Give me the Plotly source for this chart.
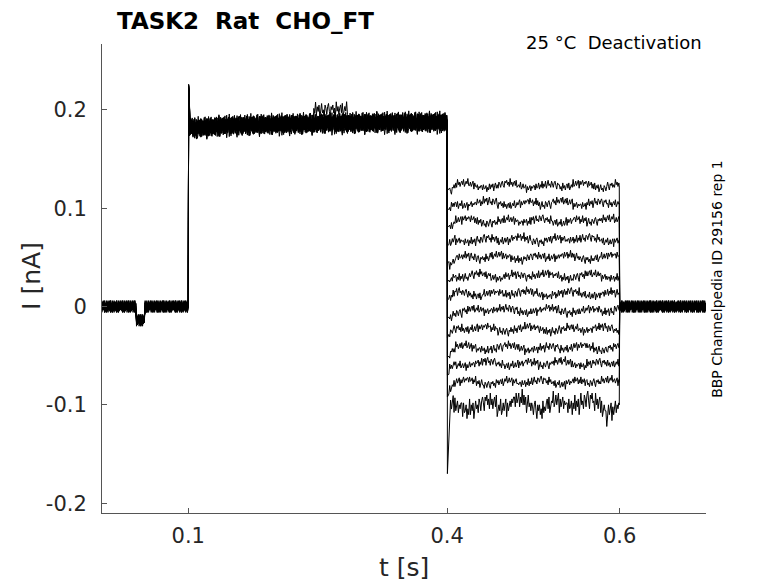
import numpy as np
import plotly.graph_objects as go

# deactivation protocol: 13 sweeps, step to +, then tail to various levels
tail_levels = [0.123, 0.105, 0.087, 0.068, 0.050, 0.031, 0.013,
               -0.004, -0.023, -0.042, -0.058, -0.077, -0.100]
tail_start = [0.118, 0.100, 0.082, 0.062, 0.044, 0.025, 0.006,
              -0.012, -0.032, -0.052, -0.070, -0.092, -0.170]
step_offset = [0.003, -0.002, 0.001, -0.004, 0.002, 0.000, -0.001,
               0.004, -0.003, 0.001, -0.002, 0.003, 0.000]

# step pulse shape (shared by all sweeps)
step_knot_t = [0.1015, 0.105, 0.15, 0.25, 0.35, 0.4]
step_knot_I = [0.184, 0.181, 0.184, 0.186, 0.187, 0.187]
peak_I = 0.226
dip_t = [0.0395, 0.0495]
dip_I = -0.014
bump_t = [0.245, 0.285]
bump_I = 0.014

# hand-read noise pattern (nA)
wiggle = [0.002, -0.003, 0.004, -0.001, 0.000, 0.003, -0.004, 0.001, -0.002, 0.005,
          -0.003, 0.002, -0.001, 0.003, -0.005, 0.001, 0.004, -0.002, 0.000, -0.004,
          0.003, 0.001, -0.003, 0.002, 0.004, -0.001, -0.005, 0.002, 0.000, 0.003,
          -0.002, 0.001, -0.004, 0.005, -0.001, 0.002, -0.003, 0.001, 0.003, -0.002,
          0.004, -0.004, 0.000, 0.002, -0.001, 0.005, -0.003, -0.001, 0.003, -0.002,
          0.001, 0.004, -0.005, 0.002, -0.002, 0.000, 0.003, -0.003, 0.001, -0.001, 0.002]
# slower wander of the tail sweeps, one value every 8 ms
drift = [0.000, 0.002, 0.003, 0.001, -0.002, -0.003, -0.001, 0.001, 0.003, 0.002,
         -0.001, -0.003, -0.002, 0.000, 0.002, 0.001, -0.002, -0.001, 0.002, 0.003,
         0.001, -0.002, -0.003, 0.000, 0.002, 0.001, -0.001]

dt = 0.001
nw = len(wiggle)
nd = len(drift)
last = len(tail_levels) - 1

fig = go.Figure()
for k, (lvl, start) in enumerate(zip(tail_levels, tail_start)):
    ts, ys = [], []
    s = 7 * k
    # holding
    for i, t in enumerate(np.arange(0, 0.1, dt)):
        base = dip_I if dip_t[0] <= t < dip_t[1] else 0.0
        ts.append(t)
        ys.append(base + 1.2 * wiggle[(i + s) % nw])
    ts += [0.1, 0.1004]
    ys += [0.0, peak_I - 0.0005 * k]
    # step
    for i, t in enumerate(np.arange(0.1015, 0.4, dt)):
        base = np.interp(t, step_knot_t, step_knot_I) + step_offset[k]
        if k == 5 and bump_t[0] <= t <= bump_t[1]:
            base += bump_I
        ts.append(t)
        ys.append(base + 1.6 * wiggle[(i + s + 11) % nw])
    ts += [0.4, 0.4003]
    ys += [0.187 + step_offset[k], start]
    # tail
    amp = 2.0 if k == last else 0.9
    for i, t in enumerate(np.arange(0.402, 0.6, dt)):
        base = np.interp(t, [0.4003, 0.403, 0.41], [start, lvl - 0.006, lvl])
        j = int((t - 0.402) / 0.008)
        base += amp * drift[(j + 3 * k) % nd]
        if k == last and abs(t - 0.5845) < 0.0012:
            base -= 0.012
        ts.append(t)
        ys.append(base + amp * wiggle[(i + s + 23) % nw])
    ts += [0.5995, 0.6]
    ys += [lvl, 0.0]
    # back to holding
    for i, t in enumerate(np.arange(0.6015, 0.7, dt)):
        ts.append(t)
        ys.append(1.2 * wiggle[(i + s + 37) % nw])
    fig.add_trace(go.Scatter(x=ts, y=ys, mode="lines",
                             line=dict(color="black", width=1),
                             showlegend=False, hoverinfo="skip"))

axis_style = dict(showline=True, linecolor="#555555", linewidth=1,
                  ticks="inside", ticklen=5, tickcolor="#555555",
                  showgrid=False, zeroline=False,
                  tickfont=dict(family="DejaVu Sans", size=21, color="#262626"))

fig.update_layout(
    width=778, height=583,
    margin=dict(l=94, r=80, t=36, b=78),
    plot_bgcolor="white", paper_bgcolor="white",
    xaxis=dict(range=[0, 0.7], tickvals=[0.1, 0.4, 0.6],
               ticktext=["0.1", "0.4", "0.6"], ticklabelstandoff=4, **axis_style),
    yaxis=dict(range=[-0.21, 0.267], tickvals=[-0.2, -0.1, 0, 0.1, 0.2],
               ticktext=["-0.2", "-0.1", "0", "0.1", "0.2"], ticklabelstandoff=10,
               **axis_style),
    font=dict(family="DejaVu Sans", color="black"),
)

fig.add_annotation(text="<b>TASK2  Rat  CHO_FT</b>", xref="paper", yref="paper",
                   x=0.022, y=1.05, xanchor="left", yanchor="middle",
                   showarrow=False, font=dict(size=23, color="black"))
fig.add_annotation(text="25 °C  Deactivation", xref="paper", yref="paper",
                   x=0.997, y=1.004, xanchor="right", yanchor="middle",
                   showarrow=False, font=dict(size=18, color="black"))
fig.add_annotation(text="BBP Channelpedia ID 29156 rep 1", xref="paper", yref="paper",
                   x=1.018, y=0.499, xanchor="center", yanchor="middle",
                   textangle=-90, showarrow=False, font=dict(size=14, color="black"))
fig.add_annotation(text="t [s]", xref="paper", yref="paper",
                   x=0.5, y=-0.117, xanchor="center", yanchor="middle",
                   showarrow=False, font=dict(size=25, color="#262626"))
fig.add_annotation(text="I [nA]", xref="paper", yref="paper",
                   x=-0.118, y=0.505, xanchor="center", yanchor="middle",
                   textangle=-90, showarrow=False, font=dict(size=25, color="#262626"))

fig.write_html("out.html")
